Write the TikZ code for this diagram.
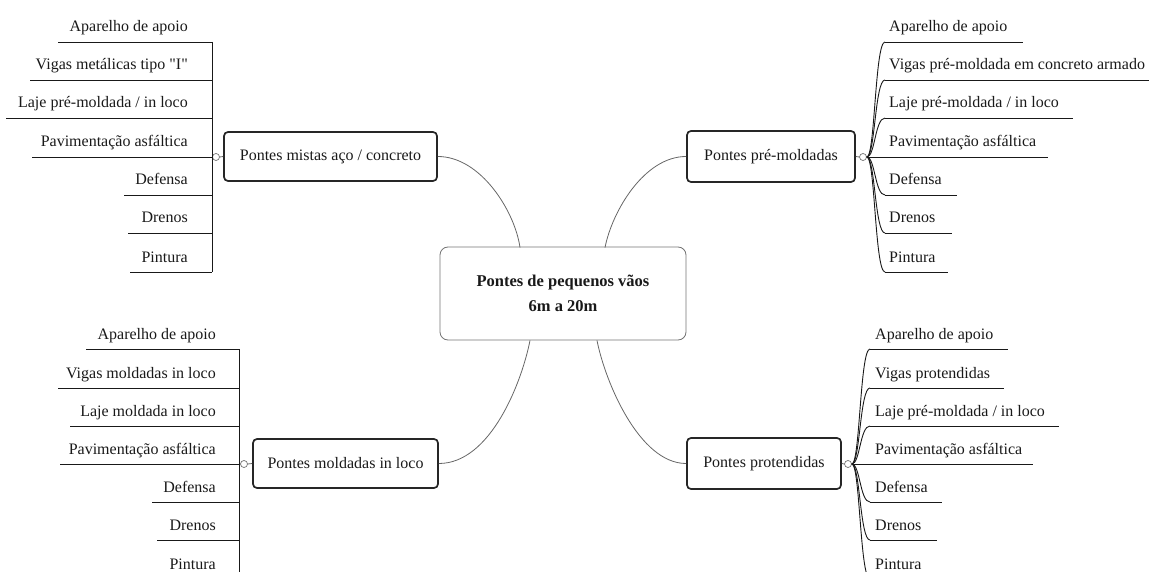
\documentclass[tikz,border=0pt]{standalone}
\usepackage{fontspec}
\setmainfont{Liberation Serif}
\newcommand\sqq{\XeTeXglyph\XeTeXcharglyph"22\relax}
\begin{document}
\begin{tikzpicture}[x=1pt,y=-1pt,
  lbl/.style={font=\fontsize{16}{19}\selectfont, inner sep=0pt, text=black!90},
  lblL/.style={lbl, anchor=base east},
  lblR/.style={lbl, anchor=base west},
  uline/.style={draw=black!90, line width=0.9pt},
  conn/.style={draw=black!60, line width=0.8pt},
  topic/.style={draw=black!85, line width=1.7pt, rounded corners=4pt, font=\fontsize{16}{19}\selectfont, inner sep=0pt, text=black!90},
  knob/.style={circle, draw=black!55, line width=0.7pt, inner sep=0pt, minimum size=7pt, fill=white},
  central/.style={draw=black!55, line width=0.8pt, rounded corners=8pt, align=center, font=\bfseries\fontsize{16.5}{25}\selectfont, inner sep=0pt, text=black!90}
]
\useasboundingbox (0,0) rectangle (1149,572);
\clip (0,0) rectangle (1149,572);

% central node
\node[central, minimum width=246pt, minimum height=93pt] (c) at (563,293.5) {Pontes de pequenos vãos\\6m a 20m};

% main topics
\node[topic, minimum width=213pt, minimum height=49pt] (mistas) at (330.5,156.5) {Pontes mistas aço / concreto};
\node[topic, minimum width=168pt, minimum height=51pt] (pre) at (771,156.5) {Pontes pré-moldadas};
\node[topic, minimum width=185pt, minimum height=49pt] (mold) at (345.5,463.5) {Pontes moldadas in loco};
\node[topic, minimum width=154pt, minimum height=51pt] (prot) at (764,463.5) {Pontes protendidas};

% connectors from centre
\draw[conn] (mistas.east) .. controls +(43,0) and +(-5,-36) .. ([xshift=-43pt,yshift=-1pt]c.north);
\draw[conn] (pre.west) .. controls +(-42,0) and +(7,-36) .. ([xshift=42pt,yshift=-1pt]c.north);
\draw[conn] (mold.east) .. controls +(52,0) and +(-8,41) .. ([xshift=-33pt]c.south);
\draw[conn] (prot.west) .. controls +(-47,0) and +(8,41) .. ([xshift=34pt]c.south);

% knobs
\node[knob] (k1) at (216,157) {};
\node[knob] (k2) at (863,157) {};
\node[knob] (k3) at (244,464) {};
\node[knob] (k4) at (848,464) {};
\draw[conn] (k1.east) -- (mistas.west);
\draw[conn] (k2.west) -- (pre.east);
\draw[conn] (k3.east) -- (mold.west);
\draw[conn] (k4.west) -- (prot.east);

% ---------- top-left group ----------
\draw[uline] (212,42) -- (212,272);
\draw[uline] (58,42) -- (212,42);
\draw[uline] (30,80) -- (212,80);
\draw[uline] (6,118) -- (212,118);
\draw[uline] (32,157) -- (212,157);
\draw[uline] (124,195) -- (212,195);
\draw[uline] (128,233) -- (212,233);
\draw[uline] (130,272) -- (212,272);
\node[lblL] (a1) at (188,32) {Aparelho de apoio};
\node[lblL] (a2) at (188,70) {Vigas metálicas tipo \sqq I\sqq};
\node[lblL] (a3) at (188,108) {Laje pré-moldada / in loco};
\node[lblL] (a4) at (188,147) {Pavimentação asfáltica};
\node[lblL] (a5) at (188,185) {Defensa};
\node[lblL] (a6) at (188,223) {Drenos};
\node[lblL] (a7) at (188,262) {Pintura};

% ---------- bottom-left group ----------
\draw[uline] (239,349) -- (239,590);
\draw[uline] (86,349) -- (239,349);
\draw[uline] (58,388) -- (239,388);
\draw[uline] (70,426) -- (239,426);
\draw[uline] (60,464) -- (239,464);
\draw[uline] (152,502) -- (239,502);
\draw[uline] (157,540) -- (239,540);
\draw[uline] (160,579) -- (239,579);
\node[lblL] (c1) at (216,339) {Aparelho de apoio};
\node[lblL] (c2) at (216,378) {Vigas moldadas in loco};
\node[lblL] (c3) at (216,416) {Laje moldada in loco};
\node[lblL] (c4) at (216,454) {Pavimentação asfáltica};
\node[lblL] (c5) at (216,492) {Defensa};
\node[lblL] (c6) at (216,530) {Drenos};
\node[lblL] (c7) at (216,569) {Pintura};

% ---------- top-right group ----------
\foreach \yy/\xe in {42/1023, 80/1149, 118/1073, 195/957, 233/952, 272/948}{
  \draw[uline] (k2.east) .. controls (875,157) and (875,\yy) .. (885,\yy);
  \draw[uline] (885,\yy) -- (\xe,\yy);
}
\draw[uline] (k2.east) -- (1048,157);
\node[lblR] (b1) at (889,32) {Aparelho de apoio};
\node[lblR] (b2) at (889,70) {Vigas pré-moldada em concreto armado};
\node[lblR] (b3) at (889,108) {Laje pré-moldada / in loco};
\node[lblR] (b4) at (889,147) {Pavimentação asfáltica};
\node[lblR] (b5) at (889,185) {Defensa};
\node[lblR] (b6) at (889,223) {Drenos};
\node[lblR] (b7) at (889,262) {Pintura};

% ---------- bottom-right group ----------
\foreach \yy/\xe in {349/1008, 388/1004, 426/1059, 502/942, 540/937, 579/935}{
  \draw[uline] (k4.east) .. controls (860,464) and (860,\yy) .. (870,\yy);
  \draw[uline] (870,\yy) -- (\xe,\yy);
}
\draw[uline] (k4.east) -- (1033,464);
\node[lblR] (d1) at (875,339) {Aparelho de apoio};
\node[lblR] (d2) at (875,378) {Vigas protendidas};
\node[lblR] (d3) at (875,416) {Laje pré-moldada / in loco};
\node[lblR] (d4) at (875,454) {Pavimentação asfáltica};
\node[lblR] (d5) at (875,492) {Defensa};
\node[lblR] (d6) at (875,530) {Drenos};
\node[lblR] (d7) at (875,569) {Pintura};
\end{tikzpicture}
\end{document}
